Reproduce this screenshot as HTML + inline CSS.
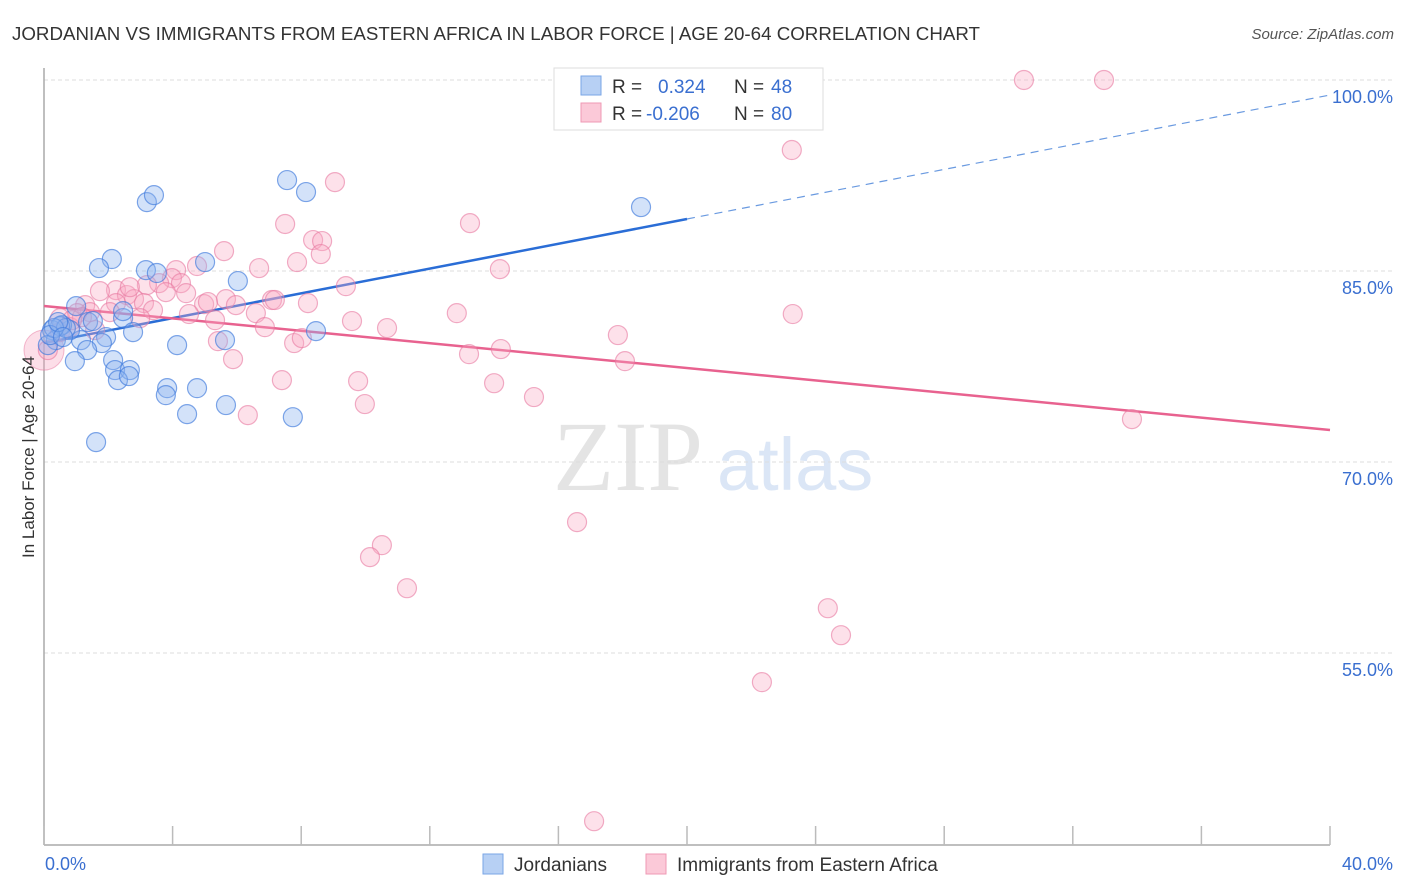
<!DOCTYPE html>
<html><head><meta charset="utf-8"><style>
body{margin:0;background:#fff;width:1406px;height:892px;overflow:hidden;font-family:"Liberation Sans",sans-serif}
svg{display:block}
</style></head><body>
<svg id="chart" width="1406" height="892" xmlns="http://www.w3.org/2000/svg">
<text x="12" y="40" font-size="18" fill="#333" textLength="968" lengthAdjust="spacingAndGlyphs">JORDANIAN VS IMMIGRANTS FROM EASTERN AFRICA IN LABOR FORCE | AGE 20-64 CORRELATION CHART</text>
<text x="1394" y="39" font-size="15" fill="#555" font-style="italic" text-anchor="end">Source: ZipAtlas.com</text>
<g>
<text x="553" y="490" font-family="Liberation Serif,serif" font-size="100" fill="#e4e4e4">ZIP</text>
<text x="717" y="490" font-size="74" fill="#dbe6f6">atlas</text>
</g>
<g id="grid"></g>
<g id="axes"></g>
<g id="trends"></g>
<g id="pts"></g>
<text transform="translate(34,457) rotate(-90)" font-size="17" fill="#333" text-anchor="middle">In Labor Force | Age 20-64</text>
<g>
<rect x="554" y="68" width="269" height="62" fill="#fff" stroke="#ddd"/>
<rect x="581" y="76" width="20" height="19" fill="#b7d0f4" stroke="#7aa6e6"/>
<rect x="581" y="103" width="20" height="19" fill="#fbc9d8" stroke="#ef99b4"/>
<text x="612" y="93" font-size="19" fill="#333">R =</text>
<text x="658" y="93" font-size="19" fill="#3a6fd0">0.324</text>
<text x="734" y="93" font-size="19" fill="#333">N =</text>
<text x="771" y="93" font-size="19" fill="#3a6fd0">48</text>
<text x="612" y="120" font-size="19" fill="#333">R =</text>
<text x="646" y="120" font-size="19" fill="#3a6fd0">-0.206</text>
<text x="734" y="120" font-size="19" fill="#333">N =</text>
<text x="771" y="120" font-size="19" fill="#3a6fd0">80</text>
</g>
<g>
<rect x="483" y="854" width="20" height="20" fill="#b7d0f4" stroke="#7aa6e6"/>
<text x="514" y="871" font-size="19" fill="#333">Jordanians</text>
<rect x="646" y="854" width="20" height="20" fill="#fbc9d8" stroke="#ef99b4"/>
<text x="677" y="871" font-size="19" fill="#333">Immigrants from Eastern Africa</text>
</g>
</svg>
<script>
const blueX=[7.56,8.15,3.20,3.42,18.57,2.11,1.71,3.17,3.51,5.01,6.03,1.00,1.37,2.46,2.46,2.77,1.93,1.80,1.15,0.81,0.56,0.25,0.37,0.12,1.34,0.96,2.15,2.21,2.67,2.30,2.64,3.83,4.76,3.79,4.14,5.63,8.46,4.45,5.66,7.74,1.62,0.50,0.68,0.31,1.52,0.19,0.44,0.59];
const blueY=[92.14,91.20,90.41,90.96,90.02,85.94,85.23,85.07,84.84,85.70,84.21,82.24,80.99,81.30,81.85,80.20,79.81,79.34,79.57,80.36,80.75,80.36,79.57,79.18,78.79,77.92,78.00,77.22,77.22,76.43,76.75,75.80,75.80,75.25,79.18,79.57,80.28,73.76,74.47,73.52,71.56,80.67,80.52,80.52,81.07,79.97,80.99,79.81];
const pinkX=[30.48,32.97,23.26,9.05,13.25,7.50,8.37,8.65,8.61,5.60,7.87,6.69,14.18,4.11,4.76,3.98,4.26,3.58,3.20,2.24,2.58,1.74,2.80,3.79,4.42,4.98,5.66,5.97,7.09,7.18,8.21,9.39,12.84,23.29,3.11,3.39,2.24,1.28,1.43,2.05,0.50,1.03,4.51,5.32,6.59,6.87,9.58,10.67,17.85,5.41,7.78,8.02,5.88,14.21,13.22,18.07,7.40,9.77,14.00,9.98,15.24,6.34,33.84,16.58,10.51,10.14,11.29,24.38,24.79,22.33,17.11,0.12,0.50,0.81,1.18,1.59,2.99,5.10,2.67,0.87];
const pinkY=[100.00,100.00,94.50,91.98,88.76,88.69,87.43,87.35,86.33,86.56,85.70,85.23,85.15,85.07,85.39,84.44,84.05,84.05,83.89,83.50,83.11,83.42,82.79,83.34,83.26,82.40,82.79,82.32,82.72,82.72,82.48,83.81,81.69,81.62,82.48,81.93,82.48,82.32,81.77,81.77,81.30,81.69,81.62,81.14,81.69,80.59,81.07,80.52,79.97,79.49,79.34,79.73,78.08,78.87,78.47,77.92,76.43,76.35,76.19,74.55,75.10,73.68,73.37,65.28,63.47,62.53,60.09,58.52,56.40,52.71,41.79,78.79,80.20,80.59,81.38,80.36,81.30,82.56,83.73,81.14];
const bigPinkX=[0.0], bigPinkY=[78.79];
const trendBlue=[79.35,98.82]; // value at x=0 and x=40
const trendPink=[82.25,72.51];
const yTicks=[100,85,70,55];
const yTickLabels=["100.0%","85.0%","70.0%","55.0%"];
const xTickVals=[0,4,8,12,16,20,24,28,32,36,40];
const xEndLabels=["0.0%","40.0%"];
const NS="http://www.w3.org/2000/svg";
const X0=44,X1=1330,YB=845;
function xs(v){return X0+(X1-X0)*v/40;}
function ys(v){return 80+(100-v)*191/15;}
function mk(tag,attrs,parent){const e=document.createElementNS(NS,tag);for(const k in attrs)e.setAttribute(k,attrs[k]);parent.appendChild(e);return e;}
const grid=document.getElementById('grid'),axes=document.getElementById('axes'),trends=document.getElementById('trends'),pts=document.getElementById('pts');
yTicks.forEach((t,i)=>{
 const l=mk('line',{x1:X0,x2:1395,y1:ys(t),y2:ys(t),stroke:'#ddd','stroke-dasharray':'4 3'},grid);
 
 
 const tx=mk('text',{x:1393,y:ys(t)+23,'font-size':18,fill:'#3a6fd0','text-anchor':'end'},grid);
 tx.textContent=yTickLabels[i];
 
 
});
const ya=mk('line',{x1:X0,x2:X0,y1:68,y2:YB,stroke:'#aaa','stroke-width':1.5},axes);


const xa=mk('line',{x1:X0,x2:X1,y1:YB,y2:YB,stroke:'#aaa','stroke-width':1.5},axes);


xTickVals.forEach(t=>{
 const l=mk('line',{x1:xs(t),x2:xs(t),y1:826,y2:YB,stroke:'#bbb','stroke-width':1.5},axes);
 
 
});
const xl0=mk('text',{x:45,y:870,'font-size':18,fill:'#3a6fd0'},axes);xl0.textContent=xEndLabels[0];


const xl1=mk('text',{x:1393,y:870,'font-size':18,fill:'#3a6fd0','text-anchor':'end'},axes);xl1.textContent=xEndLabels[1];


function tv(tr,x){return tr[0]+(tr[1]-tr[0])*x/40;}
const bs=mk('line',{x1:xs(0),y1:ys(tv(trendBlue,0)),x2:xs(20),y2:ys(tv(trendBlue,20)),stroke:'#2a6dd6','stroke-width':2.5},trends);


const bd=mk('line',{x1:xs(20),y1:ys(tv(trendBlue,20)),x2:xs(40),y2:ys(tv(trendBlue,40)),stroke:'#6a9ae0','stroke-width':1.2,'stroke-dasharray':'8 6'},trends);


const pl=mk('line',{x1:xs(0),y1:ys(tv(trendPink,0)),x2:xs(40),y2:ys(tv(trendPink,40)),stroke:'#e8628f','stroke-width':2.5},trends);


const bp=mk('circle',{cx:xs(bigPinkX[0]),cy:ys(bigPinkY[0]),r:20,fill:'rgba(245,160,190,0.35)',stroke:'rgba(232,120,160,0.5)'},pts);


pinkX.forEach((x,i)=>{
 const c=mk('circle',{cx:xs(x),cy:ys(pinkY[i]),r:9.5,fill:'rgba(248,170,195,0.35)',stroke:'rgba(232,120,160,0.6)','stroke-width':1.2},pts);
 
 
});
blueX.forEach((x,i)=>{
 const c=mk('circle',{cx:xs(x),cy:ys(blueY[i]),r:9.5,fill:'rgba(140,180,240,0.38)',stroke:'rgba(60,120,220,0.65)','stroke-width':1.2},pts);
 
 
});
</script>
</body></html>
